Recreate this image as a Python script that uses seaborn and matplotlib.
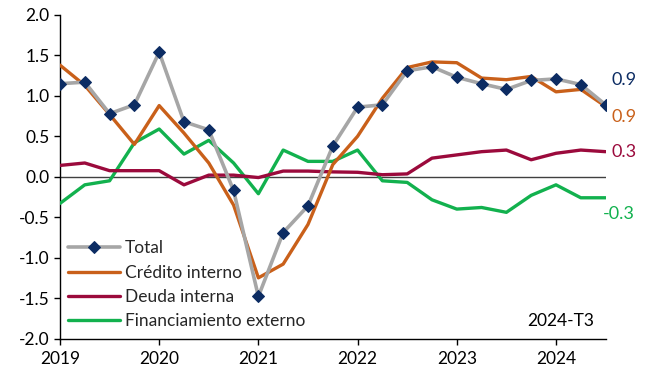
"""
Contribucion al crecimiento: Total, credito interno, deuda interna y
financiamiento externo (trimestral, 2019-T1 a 2024-T3)
"""

import numpy as np
import pandas as pd
import seaborn as sns
from matplotlib import pyplot as plt


# quarters of the series
years = [2019] * 4 + [2020] * 4 + [2021] * 4 + [2022] * 4 + [2023] * 4 + [2024] * 3
quarters = [1, 2, 3, 4] * 5 + [1, 2, 3]

# series values
total = [1.15, 1.17, 0.78, 0.89, 1.54, 0.68, 0.58, -0.17,
         -1.48, -0.69, -0.36, 0.38, 0.86, 0.89, 1.31, 1.36,
         1.23, 1.15, 1.08, 1.19, 1.21, 1.14, 0.89]
credito_interno = [1.38, 1.13, 0.77, 0.40, 0.88, 0.54, 0.17, -0.35,
                   -1.25, -1.08, -0.59, 0.15, 0.50, 0.97, 1.35, 1.42,
                   1.41, 1.22, 1.20, 1.24, 1.05, 1.08, 0.87]
deuda_interna = [0.14, 0.17, 0.075, 0.075, 0.075, -0.10, 0.02, 0.02,
                 -0.01, 0.07, 0.07, 0.06, 0.055, 0.025, 0.035, 0.23,
                 0.27, 0.31, 0.33, 0.21, 0.29, 0.33, 0.31]
financiamiento_externo = [-0.33, -0.10, -0.05, 0.42, 0.59, 0.28, 0.45, 0.17,
                          -0.21, 0.33, 0.19, 0.19, 0.33, -0.05, -0.07, -0.285,
                          -0.40, -0.38, -0.44, -0.23, -0.10, -0.26, -0.26]

series_names = ["Total", "Crédito interno", "Deuda interna",
                "Financiamiento externo"]
colors = ["#A6A6A6", "#C9601A", "#9B0A3C", "#12B14E"]
navy = "#0C2C63"
periodo = "2024-T3"

sns.set_style("ticks")
plt.rcParams["font.family"] = ["Lato", "DejaVu Sans"]


def main():
    """
    main function
    """
    x = np.array(years) + (np.array(quarters) - 1) / 4.0
    df = pd.DataFrame({"x": x, series_names[0]: total,
                       series_names[1]: credito_interno,
                       series_names[2]: deuda_interna,
                       series_names[3]: financiamiento_externo})

    fig = plt.figure(figsize=(6.47, 3.71), dpi=100)
    ax = fig.add_axes([0.0927, 0.0876, 0.8433, 0.872])

    ax.axhline(0, color="#404040", lw=1.0, zorder=1)

    # order of drawing: green, maroon, orange, total on top
    for name, col in zip(series_names[::-1], colors[::-1]):
        if name == "Total":
            sns.lineplot(data=df, x="x", y=name, ax=ax, color=col, lw=2.6,
                         marker="D", markersize=6.5, markerfacecolor=navy,
                         markeredgecolor=navy, label=name, zorder=4)
        else:
            sns.lineplot(data=df, x="x", y=name, ax=ax, color=col, lw=2.4,
                         label=name, zorder=3)

    ax.set_xlim(2019, 2024.5)
    ax.set_ylim(-2.0, 2.0)
    ax.set_xticks(range(2019, 2025))
    yt = np.arange(-2.0, 2.01, 0.5)
    ax.set_yticks(yt)
    ax.set_yticklabels([f"{v:.1f}" for v in yt])
    ax.set_xlabel("")
    ax.set_ylabel("")
    ax.tick_params(axis="both", labelsize=12.5, colors="black", length=4,
                   width=1)
    ax.tick_params(axis="x", pad=5)
    for s in ["top", "right"]:
        ax.spines[s].set_visible(False)
    for s in ["left", "bottom"]:
        ax.spines[s].set_color("black")
        ax.spines[s].set_linewidth(1)

    # legend in series order
    handles, labels = ax.get_legend_handles_labels()
    order = [labels.index(n) for n in series_names]
    ax.legend([handles[i] for i in order], [labels[i] for i in order],
              loc="lower left", bbox_to_anchor=(-0.005, -0.004), frameon=False,
              fontsize=12.5, handlelength=3.0, handletextpad=0.3,
              labelspacing=0.48, borderaxespad=0.2)

    # end labels
    last = [total[-1], credito_interno[-1], deuda_interna[-1],
            financiamiento_externo[-1]]
    label_cols = [navy, colors[1], colors[2], colors[3]]
    label_y = [1.2, 0.74, 0.30, -0.46]
    label_x = [2024.555, 2024.555, 2024.555, 2024.47]
    for v, c, yy, xx in zip(last, label_cols, label_y, label_x):
        ax.text(xx, yy, f"{v:.1f}", color=c, fontsize=13, va="center",
                ha="left", clip_on=False)

    ax.text(2024.39, -1.78, periodo, fontsize=12.5, ha="right",
            va="center", color="black")

    plt.savefig("out.png", dpi=100)


if __name__ == "__main__":
    main()
